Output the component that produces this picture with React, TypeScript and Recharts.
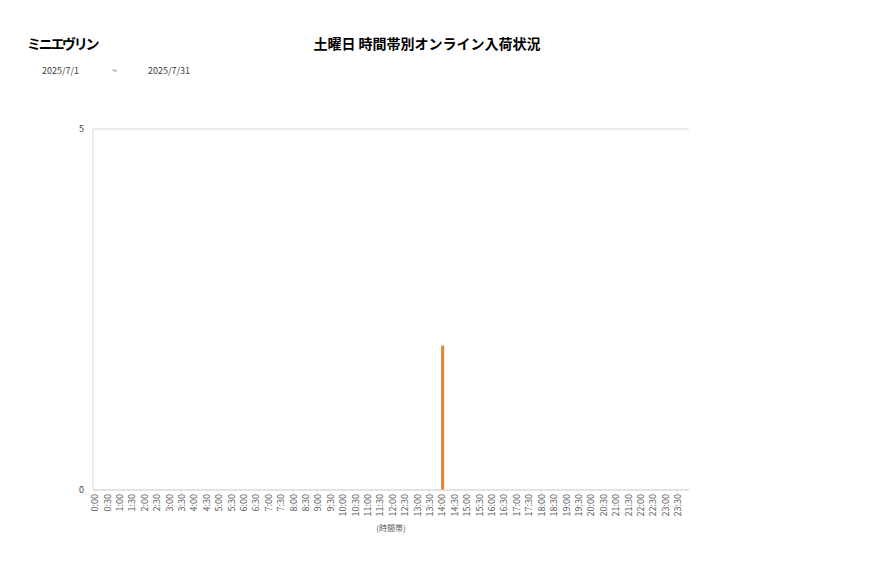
import React from "react";
import {
  BarChart,
  Bar,
  XAxis,
  YAxis,
  CartesianGrid,
} from "recharts";

const timeSlots = [
  "0:00", "0:30", "1:00", "1:30", "2:00", "2:30", "3:00", "3:30",
  "4:00", "4:30", "5:00", "5:30", "6:00", "6:30", "7:00", "7:30",
  "8:00", "8:30", "9:00", "9:30", "10:00", "10:30", "11:00", "11:30",
  "12:00", "12:30", "13:00", "13:30", "14:00", "14:30", "15:00", "15:30",
  "16:00", "16:30", "17:00", "17:30", "18:00", "18:30", "19:00", "19:30",
  "20:00", "20:30", "21:00", "21:30", "22:00", "22:30", "23:00", "23:30",
];

const arrivals = [
  0, 0, 0, 0, 0, 0, 0, 0,
  0, 0, 0, 0, 0, 0, 0, 0,
  0, 0, 0, 0, 0, 0, 0, 0,
  0, 0, 0, 0, 2, 0, 0, 0,
  0, 0, 0, 0, 0, 0, 0, 0,
  0, 0, 0, 0, 0, 0, 0, 0,
];

const yTicks = [0, 5];

const shopName = "ミニエヴリン";
const chartTitle = "土曜日 時間帯別オンライン入荷状況";
const dateFrom = "2025/7/1";
const dateTo = "2025/7/31";

const data = timeSlots.map((slot, i) => ({ slot, value: arrivals[i] }));

const FONT = "'Noto Sans CJK JP', 'Noto Sans', sans-serif";
const BORDER = "#d9d9d9";

// rotated time-slot labels, reading bottom to top
const SlotTick = (props: any) => {
  const { x, y, payload } = props;
  return (
    <g transform={`translate(${x},${y})`}>
      <text
        transform="rotate(-90)"
        textAnchor="end"
        dy="0.35em"
        x={0}
        fontSize={9}
        fill="#595959"
        fontFamily={FONT}
      >
        {payload.value}
      </text>
    </g>
  );
};

export default function App() {
  return (
    <div
      style={{
        position: "absolute",
        left: 0,
        top: 0,
        width: 877,
        height: 578,
        background: "#fff",
        fontFamily: FONT,
      }}
    >
      <div
        style={{
          position: "absolute",
          left: 27,
          top: 33,
          fontSize: 14,
          fontWeight: 700,
          letterSpacing: -2.3,
          color: "#000",
        }}
      >
        {shopName}
      </div>
      <div
        style={{
          position: "absolute",
          left: 0,
          width: 854,
          top: 33,
          textAlign: "center",
          fontSize: 14,
          fontWeight: 700,
          color: "#000",
        }}
      >
        {chartTitle}
      </div>
      <div style={{ position: "absolute", left: 42, top: 64, fontSize: 9, color: "#404040" }}>
        {dateFrom}
      </div>
      <div style={{ position: "absolute", left: 112, top: 64, fontSize: 9, color: "#404040" }}>
        ~
      </div>
      <div style={{ position: "absolute", left: 148, top: 64, fontSize: 9, color: "#404040" }}>
        {dateTo}
      </div>

      <BarChart
        width={877}
        height={578}
        data={data}
        margin={{ top: 129, right: 188, bottom: 38, left: 73 }}
      >
        <CartesianGrid vertical={false} stroke={BORDER} />
        <XAxis
          dataKey="slot"
          scale="point"
          padding={{ left: 2, right: 11 }}
          interval={0}
          tick={<SlotTick />}
          tickLine={false}
          tickSize={0}
          tickMargin={4}
          axisLine={{ stroke: BORDER }}
          height={50}
          label={{
            value: "(時間帯)",
            position: "insideBottom",
            offset: 9,
            fontSize: 8,
            fill: "#595959",
            fontFamily: FONT,
          }}
        />
        <YAxis
          yAxisId="l"
          domain={[0, 5]}
          ticks={yTicks}
          width={20}
          tickLine={false}
          tickSize={0}
          tickMargin={9}
          axisLine={{ stroke: BORDER }}
          tick={{ fontSize: 9, fill: "#404040", fontFamily: FONT }}
        />
        <YAxis
          yAxisId="r"
          orientation="right"
          domain={[0, 5]}
          ticks={yTicks}
          width={0}
          tick={false}
          tickLine={false}
          axisLine={{ stroke: BORDER }}
        />
        <Bar
          yAxisId="l"
          dataKey="value"
          fill="#ED7D31"
          barSize={3}
          isAnimationActive={false}
        />
      </BarChart>
    </div>
  );
}
